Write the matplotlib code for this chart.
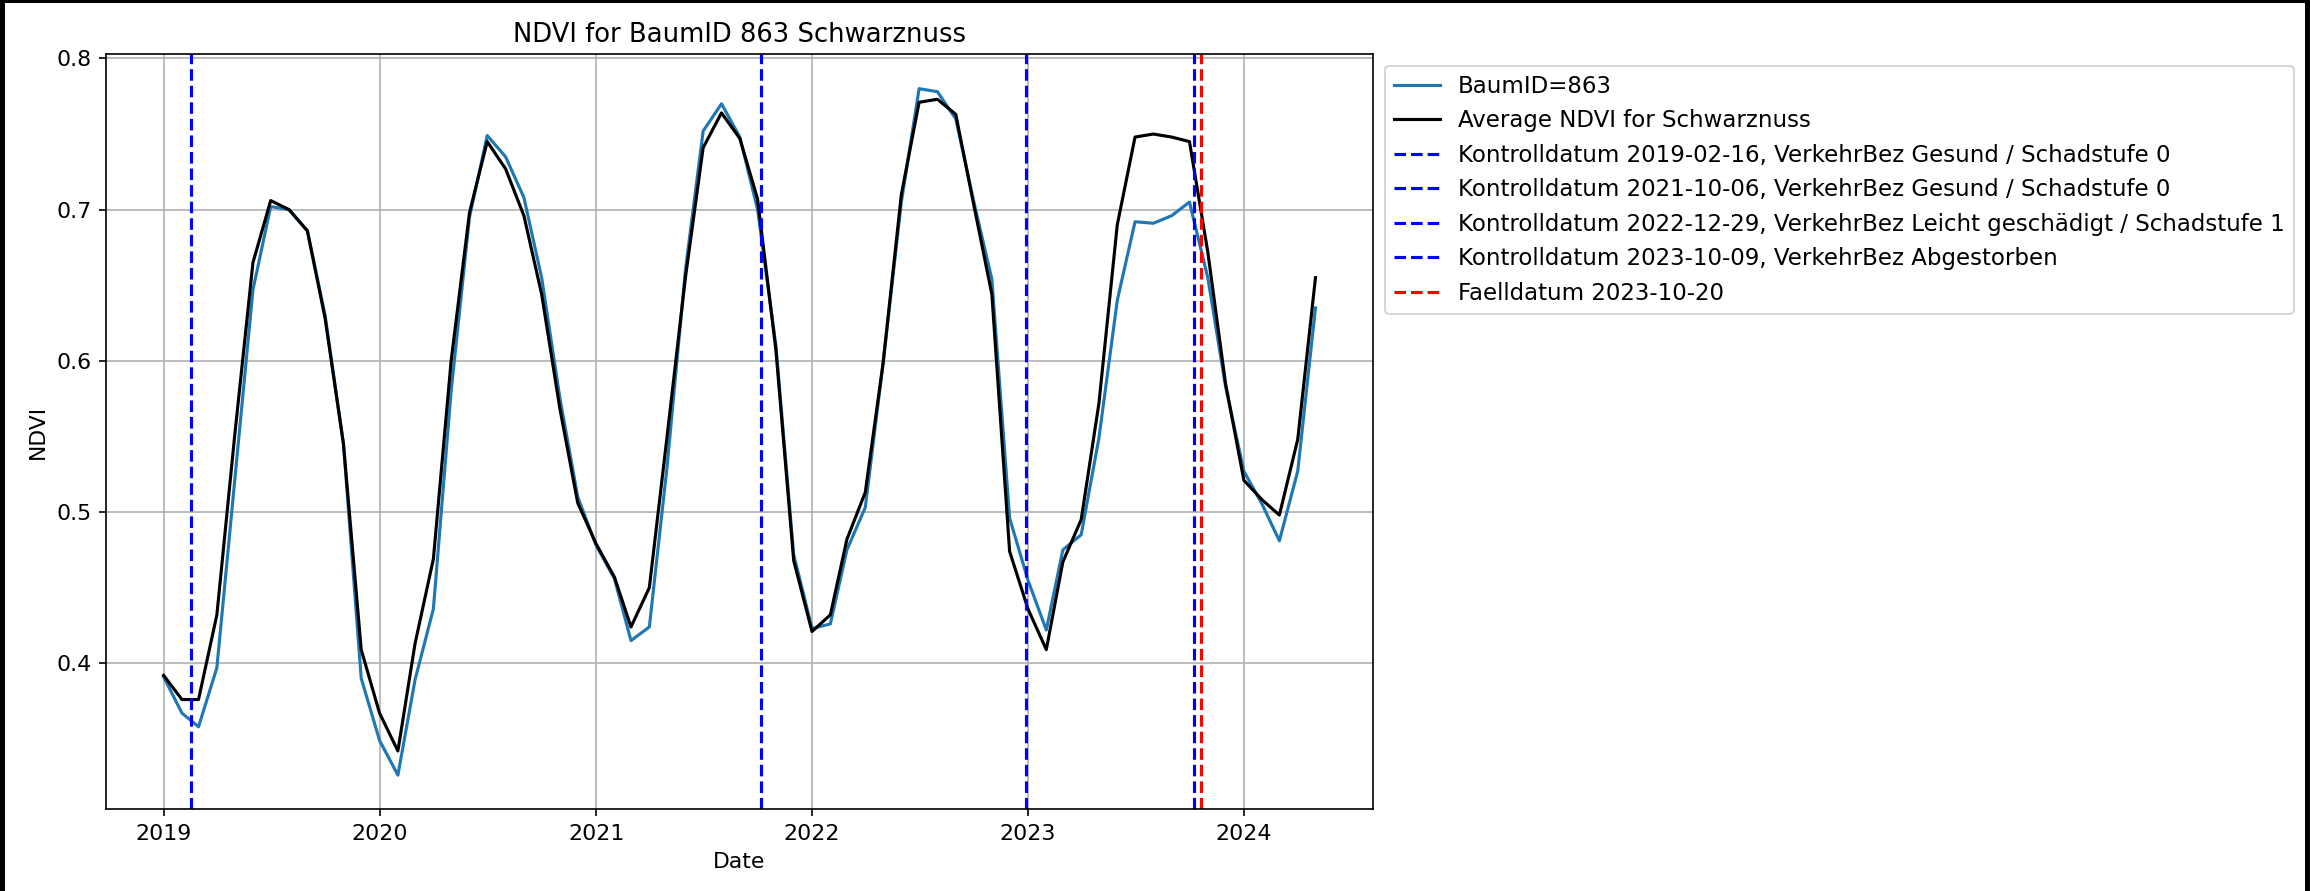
import matplotlib

matplotlib.use("Agg")
import matplotlib.pyplot as plt  # noqa: E402
import pandas as pd  # noqa: E402
from matplotlib.patches import Rectangle  # noqa: E402

# Monthly NDVI, Jan 2019 .. May 2024.
MONTHS = pd.date_range("2019-01-01", periods=65, freq="MS")

TREE_NDVI = [
    0.391, 0.367, 0.358, 0.397, 0.52, 0.647, 0.702, 0.700, 0.686, 0.630, 0.545, 0.390,
    0.349, 0.326, 0.389, 0.436, 0.58, 0.695, 0.749, 0.735, 0.708, 0.655, 0.575, 0.510,
    0.478, 0.456, 0.415, 0.424, 0.53, 0.660, 0.752, 0.770, 0.748, 0.700, 0.610, 0.472,
    0.423, 0.426, 0.475, 0.503, 0.598, 0.705, 0.780, 0.778, 0.760, 0.706, 0.654, 0.496,
    0.455, 0.422, 0.475, 0.485, 0.549, 0.640, 0.692, 0.691, 0.696, 0.705, 0.655, 0.583,
    0.527, 0.505, 0.481, 0.527, 0.635,
]

SPECIES_AVG = [
    0.392, 0.376, 0.376, 0.432, 0.55, 0.665, 0.706, 0.700, 0.686, 0.628, 0.545, 0.409,
    0.367, 0.342, 0.413, 0.469, 0.60, 0.698, 0.745, 0.727, 0.696, 0.644, 0.568, 0.506,
    0.479, 0.457, 0.424, 0.450, 0.55, 0.655, 0.741, 0.764, 0.747, 0.707, 0.607, 0.468,
    0.421, 0.432, 0.482, 0.513, 0.598, 0.710, 0.771, 0.773, 0.763, 0.704, 0.644, 0.474,
    0.436, 0.409, 0.467, 0.495, 0.572, 0.690, 0.748, 0.750, 0.748, 0.745, 0.672, 0.585,
    0.521, 0.508, 0.498, 0.548, 0.655,
]

CONTROL_DATES = ["2019-02-16", "2021-10-06", "2022-12-29", "2023-10-09"]
CONTROL_STATUS = [
    "Gesund / Schadstufe 0",
    "Gesund / Schadstufe 0",
    "Leicht geschädigt / Schadstufe 1",
    "Abgestorben",
]
FELL_DATE = "2023-10-20"

TREE_ID = 863
SPECIES = "Schwarznuss"

fig, ax = plt.subplots(figsize=(15.4, 5.94), dpi=150)
fig.patch.set_facecolor("black")
# screenshot-style black frame round the white figure
fig.add_artist(Rectangle((5 / 2310, 0), 2300 / 2310, 888 / 891,
                         transform=fig.transFigure, facecolor="white",
                         edgecolor="none", zorder=-10))
fig.subplots_adjust(left=0.0459, right=0.5944, top=0.939, bottom=0.0915)

ax.plot(MONTHS, TREE_NDVI, color="#1f77b4", lw=1.5, label=f"BaumID={TREE_ID}")
ax.plot(MONTHS, SPECIES_AVG, color="black", lw=1.5, label=f"Average NDVI for {SPECIES}")

for date, status in zip(CONTROL_DATES, CONTROL_STATUS):
    ax.axvline(pd.Timestamp(date), color="blue", ls="--",
               label=f"Kontrolldatum {date}, VerkehrBez {status}")
ax.axvline(pd.Timestamp(FELL_DATE), color="red", ls="--", label=f"Faelldatum {FELL_DATE}")

ax.set_title(f"NDVI for BaumID {TREE_ID} {SPECIES}", fontsize=12.4)
ax.set_xlabel("Date", fontsize=10.5)
ax.set_ylabel("NDVI", fontsize=10.5)
ax.tick_params(labelsize=10.6)
ax.grid(True)
ax.legend(loc="upper left", bbox_to_anchor=(1, 1), fontsize=11)

fig.savefig("out.png", dpi=150)
